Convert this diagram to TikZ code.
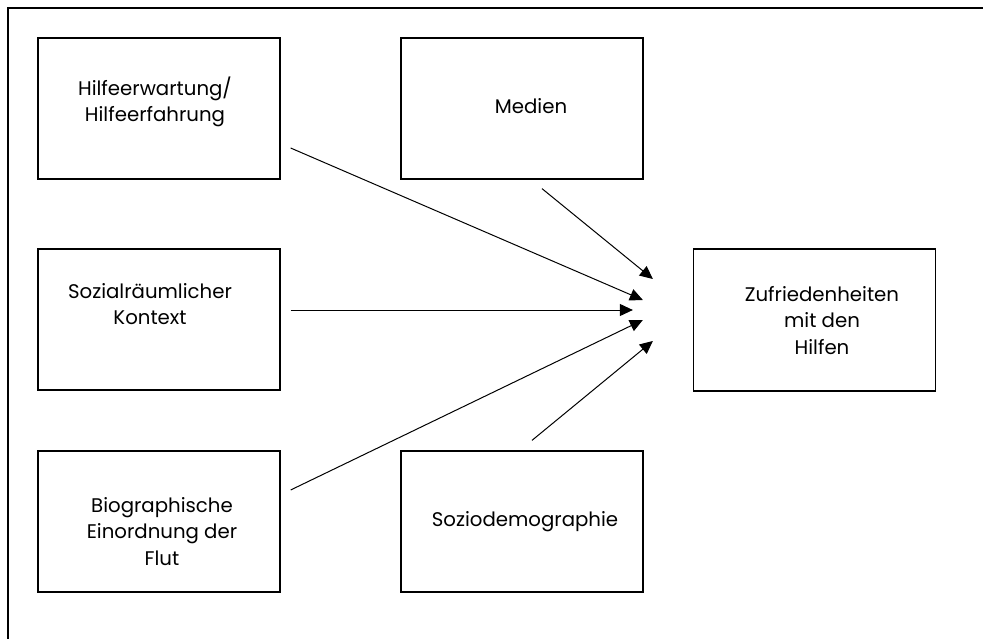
\documentclass[tikz,border=0pt]{standalone}
\usepackage{fontspec}
\setmainfont{Poppins}
\usetikzlibrary{arrows.meta,calc}

\begin{document}
\begin{tikzpicture}[
  x=0.75pt, y=-0.75pt,
  box/.style={draw, line width=0.95pt, inner sep=0pt,
    minimum width=181.5pt, minimum height=105.75pt},
  label/.style={inner sep=0pt, align=center,
    font=\fontsize{14.8pt}{20pt}\selectfont},
  link/.style={line width=0.75pt,
    -{Triangle[length=9.75pt,width=9pt]}},
  frame/.style={line width=1.5pt, line cap=rect}
]
\useasboundingbox (0,0) rectangle (983,639);

% open frame: top and left edge only
\coordinate (fl) at (7.5,639);
\coordinate (fc) at (7.5,7.5);
\coordinate (fr) at (983,7.5);
\draw[frame] (fl) -- (fc) -- (fr);

% boxes
\node[box] (b1) at (159,108.5) {};
\node[box] (b2) at (159,319.5) {};
\node[box] (b3) at (159,521.5) {};
\node[box] (m)  at (522,108.5) {};
\node[box] (s)  at (522,521.5) {};
\node[box, minimum height=106.5pt] (z) at (814.5,320) {};

% box texts
\node[label] (t1) at (155,102)   {Hilfeerwartung/\\Hilfeerfahrung};
\node[label] (t2) at (150,304)   {Sozialräumlicher\\Kontext};
\node[label] (t3) at (162,531.5) {Biographische\\Einordnung der\\Flut};
\node[label] (tm) at (531,106.5) {Medien};
\node[label] (ts) at (525,522)   {Soziodemographie};
\node[label] (tz) at (822,320.5) {Zufriedenheiten\\mit den\\Hilfen};

% influences on satisfaction
\draw[link] ($(b1.east)+(10,39.5)$)  -- ($(z.west)+(-50,-20)$);
\draw[link] ($(b2.east)+(10,-9.5)$)  -- ($(z.west)+(-60,-10)$);
\draw[link] ($(b3.east)+(10,-31.5)$) -- ($(z.west)+(-50,0)$);
\draw[link] ($(m.south)+(20,9)$)     -- ($(z.west)+(-40,-41)$);
\draw[link] ($(s.north)+(10,-10)$)   -- ($(z.west)+(-40,21)$);
\end{tikzpicture}
\end{document}
